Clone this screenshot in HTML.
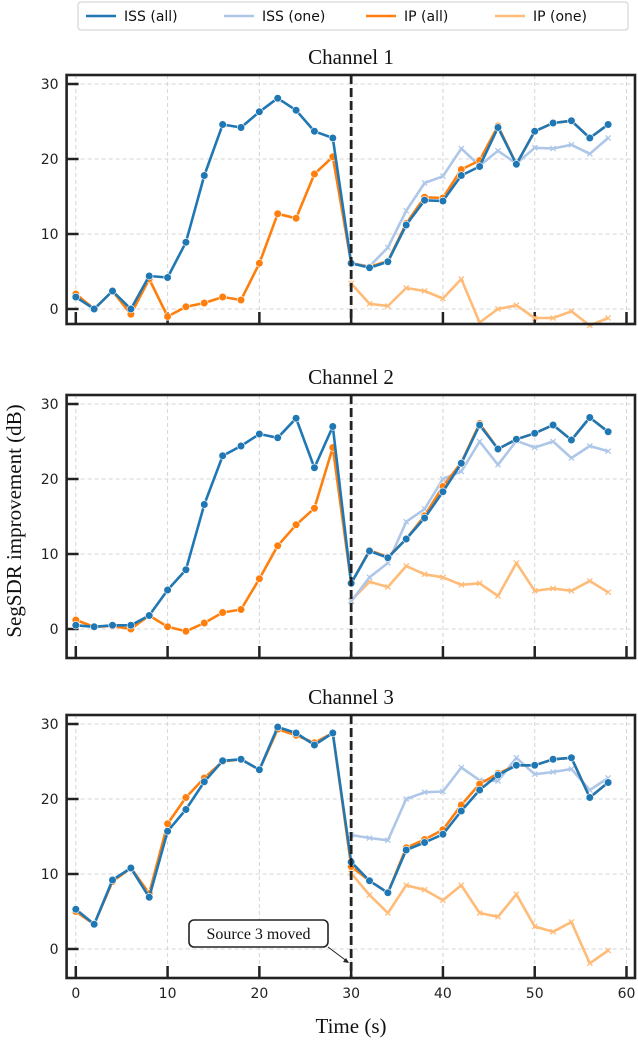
<!DOCTYPE html>
<html><head><meta charset="utf-8">
<style>
body{margin:0;background:#fff;}
svg{display:block;}
.tk{font-family:"DejaVu Sans","Liberation Sans",sans-serif;font-size:14px;fill:#222;}
.ttl{font-family:"Liberation Serif","DejaVu Serif",serif;font-size:21px;fill:#111;}
.lg{font-family:"DejaVu Sans","Liberation Sans",sans-serif;font-size:14px;fill:#111;}
</style></head><body>
<svg id="chart" width="638" height="1042" viewBox="0 0 638 1042" xmlns="http://www.w3.org/2000/svg">
</svg>
<script>
const times = [0,2,4,6,8,10,12,14,16,18,20,22,24,26,28,30,32,34,36,38,40,42,44,46,48,50,52,54,56,58];
const timesAfter = [30,32,34,36,38,40,42,44,46,48,50,52,54,56,58];
const yTicks = [0,10,20,30];
const xTicks = [0,10,20,30,40,50,60];

const ch1IssAll = [1.6,0,2.4,0,4.4,4.2,8.9,17.8,24.6,24.2,26.3,28.1,26.5,23.7,22.8,6.1,5.5,6.3,11.2,14.5,14.4,17.8,19.0,24.2,19.3,23.7,24.8,25.1,22.8,24.6];
const ch1IpAll = [2.0,0,2.4,-0.7,4.0,-1.0,0.3,0.8,1.6,1.2,6.1,12.7,12.1,18.0,20.3,6.1,5.6,6.4,11.4,14.9,14.8,18.6,19.8,24.4,19.3,23.7,24.8,25.1,22.8,24.6];
const ch1IssOne = [6.1,5.7,8.2,13.1,16.8,17.7,21.4,19.1,21.1,19.4,21.5,21.4,21.9,20.7,22.8];
const ch1IpOne = [3.4,0.7,0.4,2.8,2.4,1.4,4.0,-1.8,0,0.5,-1.2,-1.2,-0.3,-2.2,-1.2];

const ch2IssAll = [0.5,0.3,0.5,0.5,1.8,5.2,7.9,16.6,23.1,24.4,26.0,25.5,28.1,21.5,27.0,6.1,10.4,9.5,12.0,14.8,18.3,22.1,27.2,24.0,25.3,26.1,27.2,25.2,28.2,26.3];
const ch2IpAll = [1.2,0.3,0.4,0,1.8,0.3,-0.3,0.8,2.2,2.6,6.7,11.1,13.9,16.1,24.2,6.1,10.5,9.6,12.0,15.1,19.0,22.2,27.4,24.0,25.3,26.1,27.2,25.2,28.2,26.3];
const ch2IssOne = [3.7,6.9,8.8,14.3,16.0,20.0,21.0,25.0,21.9,25.1,24.2,25.0,22.8,24.4,23.7];
const ch2IpOne = [3.8,6.3,5.6,8.4,7.3,6.9,5.9,6.1,4.4,8.8,5.1,5.4,5.1,6.4,4.9];

const ch3IssAll = [5.3,3.3,9.2,10.8,6.9,15.7,18.6,22.3,25.1,25.3,23.9,29.6,28.8,27.2,28.8,11.6,9.1,7.5,13.2,14.2,15.3,18.4,21.2,23.2,24.5,24.5,25.3,25.5,20.2,22.2];
const ch3IpAll = [5.0,3.3,9.0,10.8,7.4,16.7,20.2,22.8,25.0,25.3,23.9,29.3,28.5,27.5,28.8,11.0,9.1,7.5,13.5,14.6,15.9,19.2,22.0,23.4,24.5,24.5,25.3,25.5,20.2,22.2];
const ch3IssOne = [15.2,14.8,14.5,20.0,20.9,21.0,24.2,22.5,22.4,25.5,23.3,23.6,24.0,21.2,22.8];
const ch3IpOne = [10.1,7.2,4.8,8.5,7.9,6.5,8.5,4.8,4.3,7.3,3.0,2.3,3.6,-1.9,-0.2];

const NS='http://www.w3.org/2000/svg';
const svg=document.getElementById('chart');
function mk(tag,attrs,parent){const e=document.createElementNS(NS,tag);for(const k in attrs)e.setAttribute(k,attrs[k]);(parent||svg).appendChild(e);return e;}

const L=66.6,R=635;
const xs=t=>75.8+(t/60)*(626.5-75.8);
const panels=[
 {title:'Channel 1',top:75,bottom:324,y0:309,y30:84,d:[ch1IssAll,ch1IssOne,ch1IpAll,ch1IpOne]},
 {title:'Channel 2',top:395,bottom:658,y0:629,y30:404,d:[ch2IssAll,ch2IssOne,ch2IpAll,ch2IpOne]},
 {title:'Channel 3',top:715,bottom:978,y0:949,y30:724,d:[ch3IssAll,ch3IssOne,ch3IpAll,ch3IpOne]}
];
const BLUE='#1f77b4',LBLUE='#aec7e8',OR='#ff7f0e',LOR='#ffbb78';

panels.forEach((p,pi)=>{
 const ys=v=>p.y0+(v/30)*(p.y30-p.y0);
 const g=mk('g',{});
 
 
 const t=mk('text',{x:351,y:p.top-11,'text-anchor':'middle',class:'ttl'},g);
 t.textContent=p.title;
 
 
 xTicks.forEach(v=>{const l=mk('line',{x1:xs(v),x2:xs(v),y1:p.top,y2:p.bottom,stroke:'#d4d4d4','stroke-dasharray':'4 3','stroke-width':1},g);
  });
 yTicks.forEach(v=>{const l=mk('line',{x1:L,x2:R,y1:ys(v),y2:ys(v),stroke:'#d4d4d4','stroke-dasharray':'4 3','stroke-width':1},g);
  
  const tk=mk('line',{x1:L,x2:L+12,y1:ys(v),y2:ys(v),stroke:'#222','stroke-width':2.5},g);
  
  const tl=mk('text',{x:L-8,y:ys(v)+5,'text-anchor':'end',class:'tk'},g);tl.textContent=v;
  });
 xTicks.forEach(v=>{const tk=mk('line',{x1:xs(v),x2:xs(v),y1:p.bottom,y2:p.bottom-12,stroke:'#222','stroke-width':2.5},g);
  
  if(pi===2){const tl=mk('text',{x:xs(v),y:p.bottom+20,'text-anchor':'middle',class:'tk'},g);tl.textContent=v;
   }});
 const series=[
  {arr:p.d[3],tt:timesAfter,c:LOR,m:'x',n:'ip-one'},
  {arr:p.d[1],tt:timesAfter,c:LBLUE,m:'x',n:'iss-one'},
  {arr:p.d[2],tt:times,c:OR,m:'o',n:'ip-all'},
  {arr:p.d[0],tt:times,c:BLUE,m:'o',n:'iss-all'}
 ];
 series.forEach(s=>{
  const pts=s.arr.map((v,i)=>xs(s.tt[i]).toFixed(1)+','+ys(v).toFixed(1)).join(' ');
  const pl=mk('polyline',{points:pts,fill:'none',stroke:s.c,'stroke-width':2.6,'stroke-linejoin':'round'},g);
  
  s.arr.forEach((v,i)=>{const x=xs(s.tt[i]),y=ys(v);let m;
   if(s.m==='o'){m=mk('circle',{cx:x,cy:y,r:3.8,fill:s.c,stroke:'#fff','stroke-width':0.6},g);}
   else{m=mk('path',{d:`M${x-2.6},${y-2.6}L${x+2.6},${y+2.6}M${x-2.6},${y+2.6}L${x+2.6},${y-2.6}`,stroke:s.c,'stroke-width':1.3},g);}
   });
 });
 const vl=mk('line',{x1:xs(30),x2:xs(30),y1:p.top,y2:p.bottom,stroke:'#222','stroke-width':2.8,'stroke-dasharray':'9 4'},g);
 
 const fr=mk('rect',{x:L,y:p.top,width:R-L,height:p.bottom-p.top,fill:'none',stroke:'#222','stroke-width':2.6},g);
 
});
const ag=mk('g',{});


mk('line',{x1:328,y1:947,x2:348,y2:962,stroke:'#222','stroke-width':1},ag);
mk('path',{d:'M349,963 l-6,-1 l3,-4 z',fill:'#222'},ag);
mk('rect',{x:189,y:920,width:139,height:27,rx:5,fill:'#fff',stroke:'#222','stroke-width':1.6},ag);
const at=mk('text',{x:258.5,y:939,'text-anchor':'middle',class:'ttl',style:'font-size:16px'},ag);
at.textContent='Source 3 moved';
const yl=mk('text',{x:0,y:0,'text-anchor':'middle',class:'ttl',transform:'translate(21,521) rotate(-90)'});
yl.textContent='SegSDR improvement (dB)';

const xl=mk('text',{x:351,y:1033,'text-anchor':'middle',class:'ttl'});
xl.textContent='Time (s)';

const lg=mk('g',{});


mk('rect',{x:78,y:2,width:550,height:28,rx:3,fill:'#fff',stroke:'#ccc','stroke-width':1},lg);
const ent=[['ISS (all)',BLUE,86],['ISS (one)',LBLUE,224],['IP (all)',OR,366],['IP (one)',LOR,495]];
ent.forEach(e=>{const eg=mk('g',{},lg);
 
 
 mk('line',{x1:e[2],x2:e[2]+30,y1:16,y2:16,stroke:e[1],'stroke-width':2.4},eg);
 const t=mk('text',{x:e[2]+38,y:21,class:'lg'},eg);t.textContent=e[0];});
</script>
</body></html>
